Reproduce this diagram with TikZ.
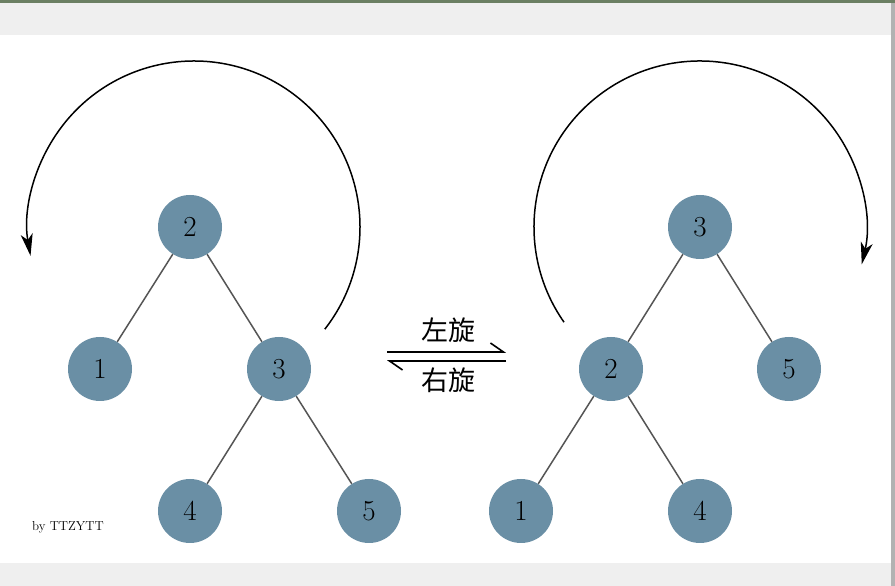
\documentclass[tikz,border=0pt]{standalone}
\usepackage{fontspec}
\newfontfamily\cjk{Noto Sans CJK SC}
\usetikzlibrary{arrows.meta,calc}
\usepackage{tkz-euclide}
\definecolor{NodeClr}{RGB}{106,143,165}
\definecolor{EdgeClr}{RGB}{85,85,85}
\definecolor{BarClr}{RGB}{107,127,99}
\definecolor{PageClr}{RGB}{239,239,239}

\tikzset{
  vertex/.style={circle,fill=NodeClr,minimum size=64pt,inner sep=0pt,
    font=\fontsize{29}{34}\selectfont},
  branch/.style={line width=1.5pt,color=EdgeClr},
  turn/.style={line width=1.5pt,-{Stealth[length=22pt,width=12pt,inset=6pt]}},
  harp/.style={line width=2.2pt,-{Straight Barb[left,length=13pt,width=18pt,line width=1.6pt]}}
}

\begin{document}
\begin{tikzpicture}[x=1pt,y=1pt]
% page frame
\fill[PageClr] (0,0) rectangle (895,586);
\fill[white] (0,23) rectangle (891,551);
\fill[BarClr] (0,583) rectangle (895,586);
\fill[gray!60] (891,0) rectangle (895,583);
\useasboundingbox (0,0) rectangle (895,586);

\tkzDefPoints{190/359/L2,100/217/L1,279/217/L3,190/75/L4,369/75/L5}
\tkzDefPoints{700/359/R3,611/217/R2,789/217/R5,521/75/R1,700/75/R4}

% left tree
\node[vertex] (l2) at (L2) {2};
\node[vertex] (l1) at (L1) {1};
\node[vertex] (l3) at (L3) {3};
\node[vertex] (l4) at (L4) {4};
\node[vertex] (l5) at (L5) {5};
\draw[branch] (l2) -- (l1);
\draw[branch] (l2) -- (l3);
\draw[branch] (l3) -- (l4);
\draw[branch] (l3) -- (l5);

% right tree
\node[vertex] (r3) at (R3) {3};
\node[vertex] (r2) at (R2) {2};
\node[vertex] (r5) at (R5) {5};
\node[vertex] (r1) at (R1) {1};
\node[vertex] (r4) at (R4) {4};
\draw[branch] (r3) -- (r2);
\draw[branch] (r3) -- (r5);
\draw[branch] (r2) -- (r1);
\draw[branch] (r2) -- (r4);

% rotation arcs
\coordinate (lc) at (194,359);
\coordinate (rc) at (700,359);
\draw[turn] ($(lc)+(-38:166)$) arc[start angle=-38,end angle=190,radius=166];
\draw[turn] ($(rc)+(215:166)$) arc[start angle=215,end angle=-13,radius=166];

% harpoons
\coordinate (ha) at (387,234);
\coordinate (hb) at (506,234);
\coordinate (hc) at (506,225);
\coordinate (hd) at (387,225);
\draw[harp] (ha) -- (hb);
\draw[harp] (hc) -- (hd);
\node[font=\cjk\fontsize{27}{30}\selectfont] (zx) at (448,256) {左旋};
\node[font=\cjk\fontsize{27}{30}\selectfont] (yx) at (448,206) {右旋};

\node[font=\fontsize{13}{15}\selectfont] (by) at (68,59) {by TTZYTT};
\end{tikzpicture}
\end{document}
